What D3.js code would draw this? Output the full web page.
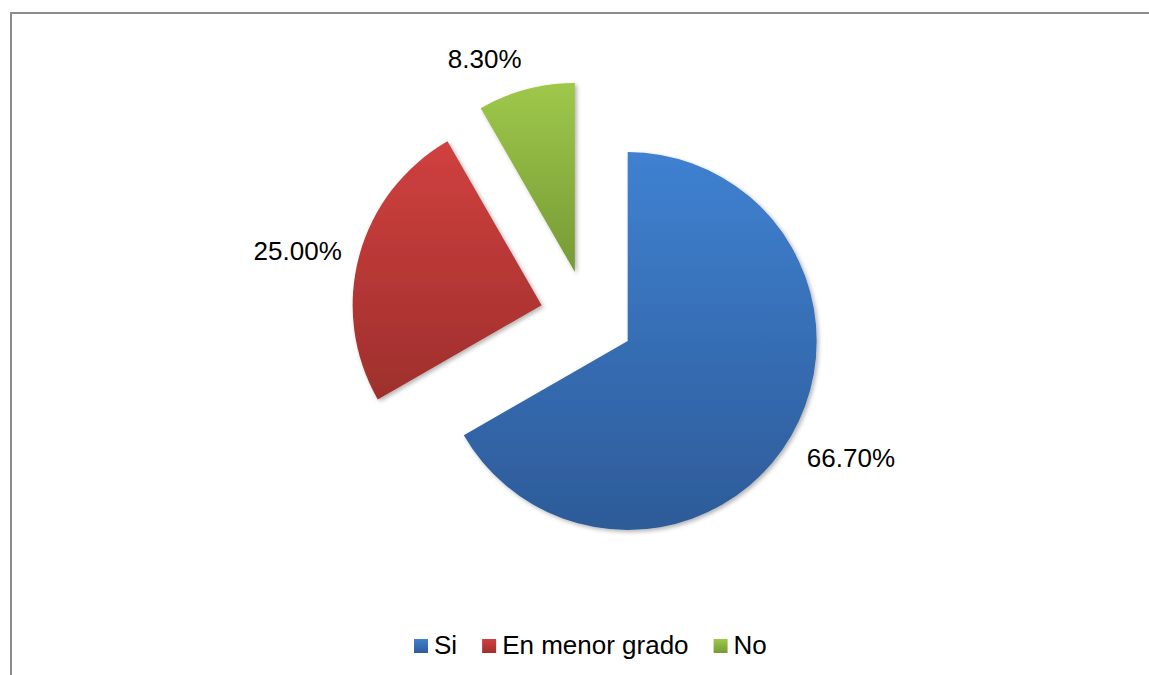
<!DOCTYPE html>
<html>
<head>
<meta charset="utf-8">
<script src="https://cdn.jsdelivr.net/npm/d3@7"></script>
<style>
  body { margin: 0; background: #fff; }
  text { font-family: "Liberation Sans", Arial, sans-serif; fill: #000; }
</style>
</head>
<body>
<div id="chart"></div>
<script>
// data
const categories = ["Si", "En menor grado", "No"];
const values = [66.7, 25.0, 8.3];
const topColors = ["#3f81d1", "#d0403f", "#9ec84a"];
const bottomColors = ["#2d5b98", "#9e2f2c", "#769a36"];

const W = 1149, H = 675;
const cx = 587, cy = 317.5, radius = 189, explode = 47;

const svg = d3.select("#chart").append("svg")
    .attr("width", W)
    .attr("height", H);

const defs = svg.append("defs");

const shadow = defs.append("filter")
    .attr("id", "shadow")
    .attr("x", "-10%").attr("y", "-10%")
    .attr("width", "130%").attr("height", "130%");
shadow.append("feDropShadow")
    .attr("dx", 2).attr("dy", 2)
    .attr("stdDeviation", 2)
    .attr("flood-color", "#000")
    .attr("flood-opacity", 0.3);

categories.forEach((c, i) => {
    const g = defs.append("linearGradient")
        .attr("id", "grad" + i)
        .attr("x1", 0).attr("y1", 0)
        .attr("x2", 0).attr("y2", 1);
    g.append("stop").attr("offset", "0%").attr("stop-color", topColors[i]);
    g.append("stop").attr("offset", "100%").attr("stop-color", bottomColors[i]);
});

// frame
svg.append("rect")
    .attr("x", 11).attr("y", 13)
    .attr("width", W + 20).attr("height", H + 20)
    .attr("fill", "none")
    .attr("stroke", "#8c8c8c")
    .attr("stroke-width", 2);

const pieData = d3.pie().sort(null).startAngle(0)(values);
const arc = d3.arc().innerRadius(0).outerRadius(radius);
const fmt = d3.format(".2f");

const pieG = svg.append("g")
    .attr("transform", `translate(${cx},${cy})`);

pieData.forEach((d, i) => {
    const mid = (d.startAngle + d.endAngle) / 2;
    const dx = Math.sin(mid), dy = -Math.cos(mid);
    const ox = dx * explode, oy = dy * explode;

    const sg = pieG.append("g")
        .attr("transform", `translate(${ox},${oy})`);

    sg.append("path")
        .attr("d", arc(d))
        .attr("fill", `url(#grad${i})`)
        .attr("filter", "url(#shadow)");

    // outside-end label, box corner snapped to the rim
    const t = sg.append("text")
        .attr("font-size", 26)
        .attr("text-anchor", "middle")
        .attr("dominant-baseline", "central")
        .text(fmt(values[i]) + "%");
    const bb = t.node().getBBox();
    const hw = bb.width / 2, hh = 13;
    const fx = Math.abs(dx) < 0.2 ? 0 : Math.sign(dx);
    const fy = Math.abs(dy) < 0.3 ? 0 : Math.sign(dy);
    const lr = radius + 18;
    t.attr("x", dx * lr + fx * hw)
     .attr("y", dy * lr + fy * hh);
});

// legend
const legend = svg.append("g");
let lx = 414;
const ly = 646;
categories.forEach((c, i) => {
    legend.append("rect")
        .attr("x", lx).attr("y", ly - 7)
        .attr("width", 14).attr("height", 14)
        .attr("fill", `url(#grad${i})`);
    const t = legend.append("text")
        .attr("x", lx + 20).attr("y", ly + 8)
        .attr("font-size", 26)
        .text(c);
    lx += 20 + t.node().getComputedTextLength() + 25;
});
</script>
</body>
</html>
